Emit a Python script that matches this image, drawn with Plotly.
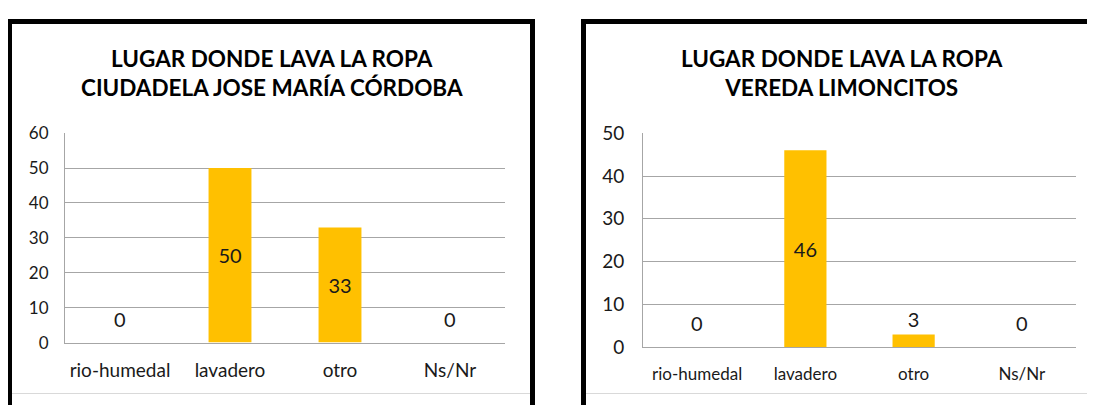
import plotly.graph_objects as go

categories = ["rio-humedal", "lavadero", "otro", "Ns/Nr"]
ciudadela_values = [0, 50, 33, 0]
limoncitos_values = [0, 46, 3, 0]
left_title = "LUGAR DONDE LAVA LA ROPA<br>CIUDADELA JOSE MARÍA CÓRDOBA"
right_title = "LUGAR DONDE LAVA LA ROPA<br>VEREDA LIMONCITOS"
left_ticks = [0, 10, 20, 30, 40, 50, 60]
right_ticks = [0, 10, 20, 30, 40, 50]

W, H = 1095, 405
OFF = 8  # page body margin in the browser
FONT = "Lato"
BAR = "#FFC000"
GRID = "#A6A6A6"
TXT = "#1a1a1a"


def px_x(v):
    return (v - OFF) / W


def px_y(v):
    return (H - (v - OFF)) / H


def text_positions(vals):
    return ["inside" if v >= 10 else "outside" for v in vals]


def bar_texts(vals):
    return [str(v) if v != 0 else "" for v in vals]


def zero_labels(vals, xref, yref):
    return [dict(text="0", x=c, y=0, xref=xref, yref=yref, yanchor="middle",
                 yshift=24, showarrow=False,
                 font=dict(family=FONT, size=20, color=TXT))
            for c, v in zip(categories, vals) if v == 0]


fig = go.Figure()
fig.add_trace(go.Bar(
    x=categories, y=ciudadela_values, xaxis="x", yaxis="y",
    marker=dict(color=BAR, line=dict(width=0)),
    text=bar_texts(ciudadela_values),
    textposition=text_positions(ciudadela_values),
    insidetextanchor="middle",
    textfont=dict(family=FONT, size=20, color=TXT),
    cliponaxis=False, showlegend=False, hoverinfo="skip",
))
fig.add_trace(go.Bar(
    x=categories, y=limoncitos_values, xaxis="x2", yaxis="y2",
    marker=dict(color=BAR, line=dict(width=0)),
    text=bar_texts(limoncitos_values),
    textposition=text_positions(limoncitos_values),
    insidetextanchor="middle",
    textfont=dict(family=FONT, size=20, color=TXT),
    cliponaxis=False, showlegend=False, hoverinfo="skip",
))

common_x = dict(type="category", showgrid=False, showline=True, linecolor=GRID,
                linewidth=1, ticks="", zeroline=False, fixedrange=True,
                ticklabelstandoff=11)
common_y = dict(showgrid=True, gridcolor=GRID, gridwidth=1, showline=True,
                linecolor=GRID, linewidth=1, ticks="", zeroline=False, fixedrange=True)

annotations = [
    dict(text="<b>" + left_title + "</b>", xref="paper", yref="paper",
         x=px_x(272), y=px_y(64), xanchor="center", yanchor="middle",
         showarrow=False, align="center",
         font=dict(family=FONT, size=22.5, color="#000000")),
    dict(text="<b>" + right_title + "</b>", xref="paper", yref="paper",
         x=px_x(842), y=px_y(64), xanchor="center", yanchor="middle",
         showarrow=False, align="center",
         font=dict(family=FONT, size=22.5, color="#000000")),
]
annotations += zero_labels(ciudadela_values, "x", "y")
annotations += zero_labels(limoncitos_values, "x2", "y2")

fig.update_layout(
    width=W, height=H,
    margin=dict(l=0, r=0, t=0, b=0),
    paper_bgcolor="white", plot_bgcolor="white",
    bargap=0.61,
    font=dict(family=FONT, color=TXT),
    xaxis=dict(domain=[px_x(65), px_x(505)], anchor="y",
               tickfont=dict(family=FONT, size=19, color=TXT), **common_x),
    yaxis=dict(domain=[px_y(350), px_y(128)], anchor="x", range=[0, 60],
               tickvals=left_ticks, ticklabelstandoff=12,
               tickfont=dict(family=FONT, size=17, color=TXT), **common_y),
    xaxis2=dict(domain=[px_x(643), px_x(1076)], anchor="y2",
                tickfont=dict(family=FONT, size=17, color=TXT), **common_x),
    yaxis2=dict(domain=[px_y(355), px_y(128)], anchor="x2", range=[0, 50],
                tickvals=right_ticks, ticklabelstandoff=14,
                tickfont=dict(family=FONT, size=19, color=TXT), **common_y),
    annotations=annotations,
    shapes=[
        dict(type="rect", xref="paper", yref="paper",
             x0=px_x(9.5), x1=px_x(532.5), y0=px_y(430), y1=px_y(9.5),
             line=dict(color="black", width=5), layer="above"),
        dict(type="rect", xref="paper", yref="paper",
             x0=px_x(583.5), x1=px_x(1120), y0=px_y(430), y1=px_y(9.5),
             line=dict(color="black", width=5), layer="above"),
        dict(type="line", xref="paper", yref="paper",
             x0=px_x(12), x1=px_x(530), y0=px_y(404), y1=px_y(404),
             line=dict(color="#D9D9D9", width=1)),
        dict(type="line", xref="paper", yref="paper",
             x0=px_x(586), x1=px_x(1103), y0=px_y(404), y1=px_y(404),
             line=dict(color="#D9D9D9", width=1)),
    ],
)

fig.write_html("out.html")
